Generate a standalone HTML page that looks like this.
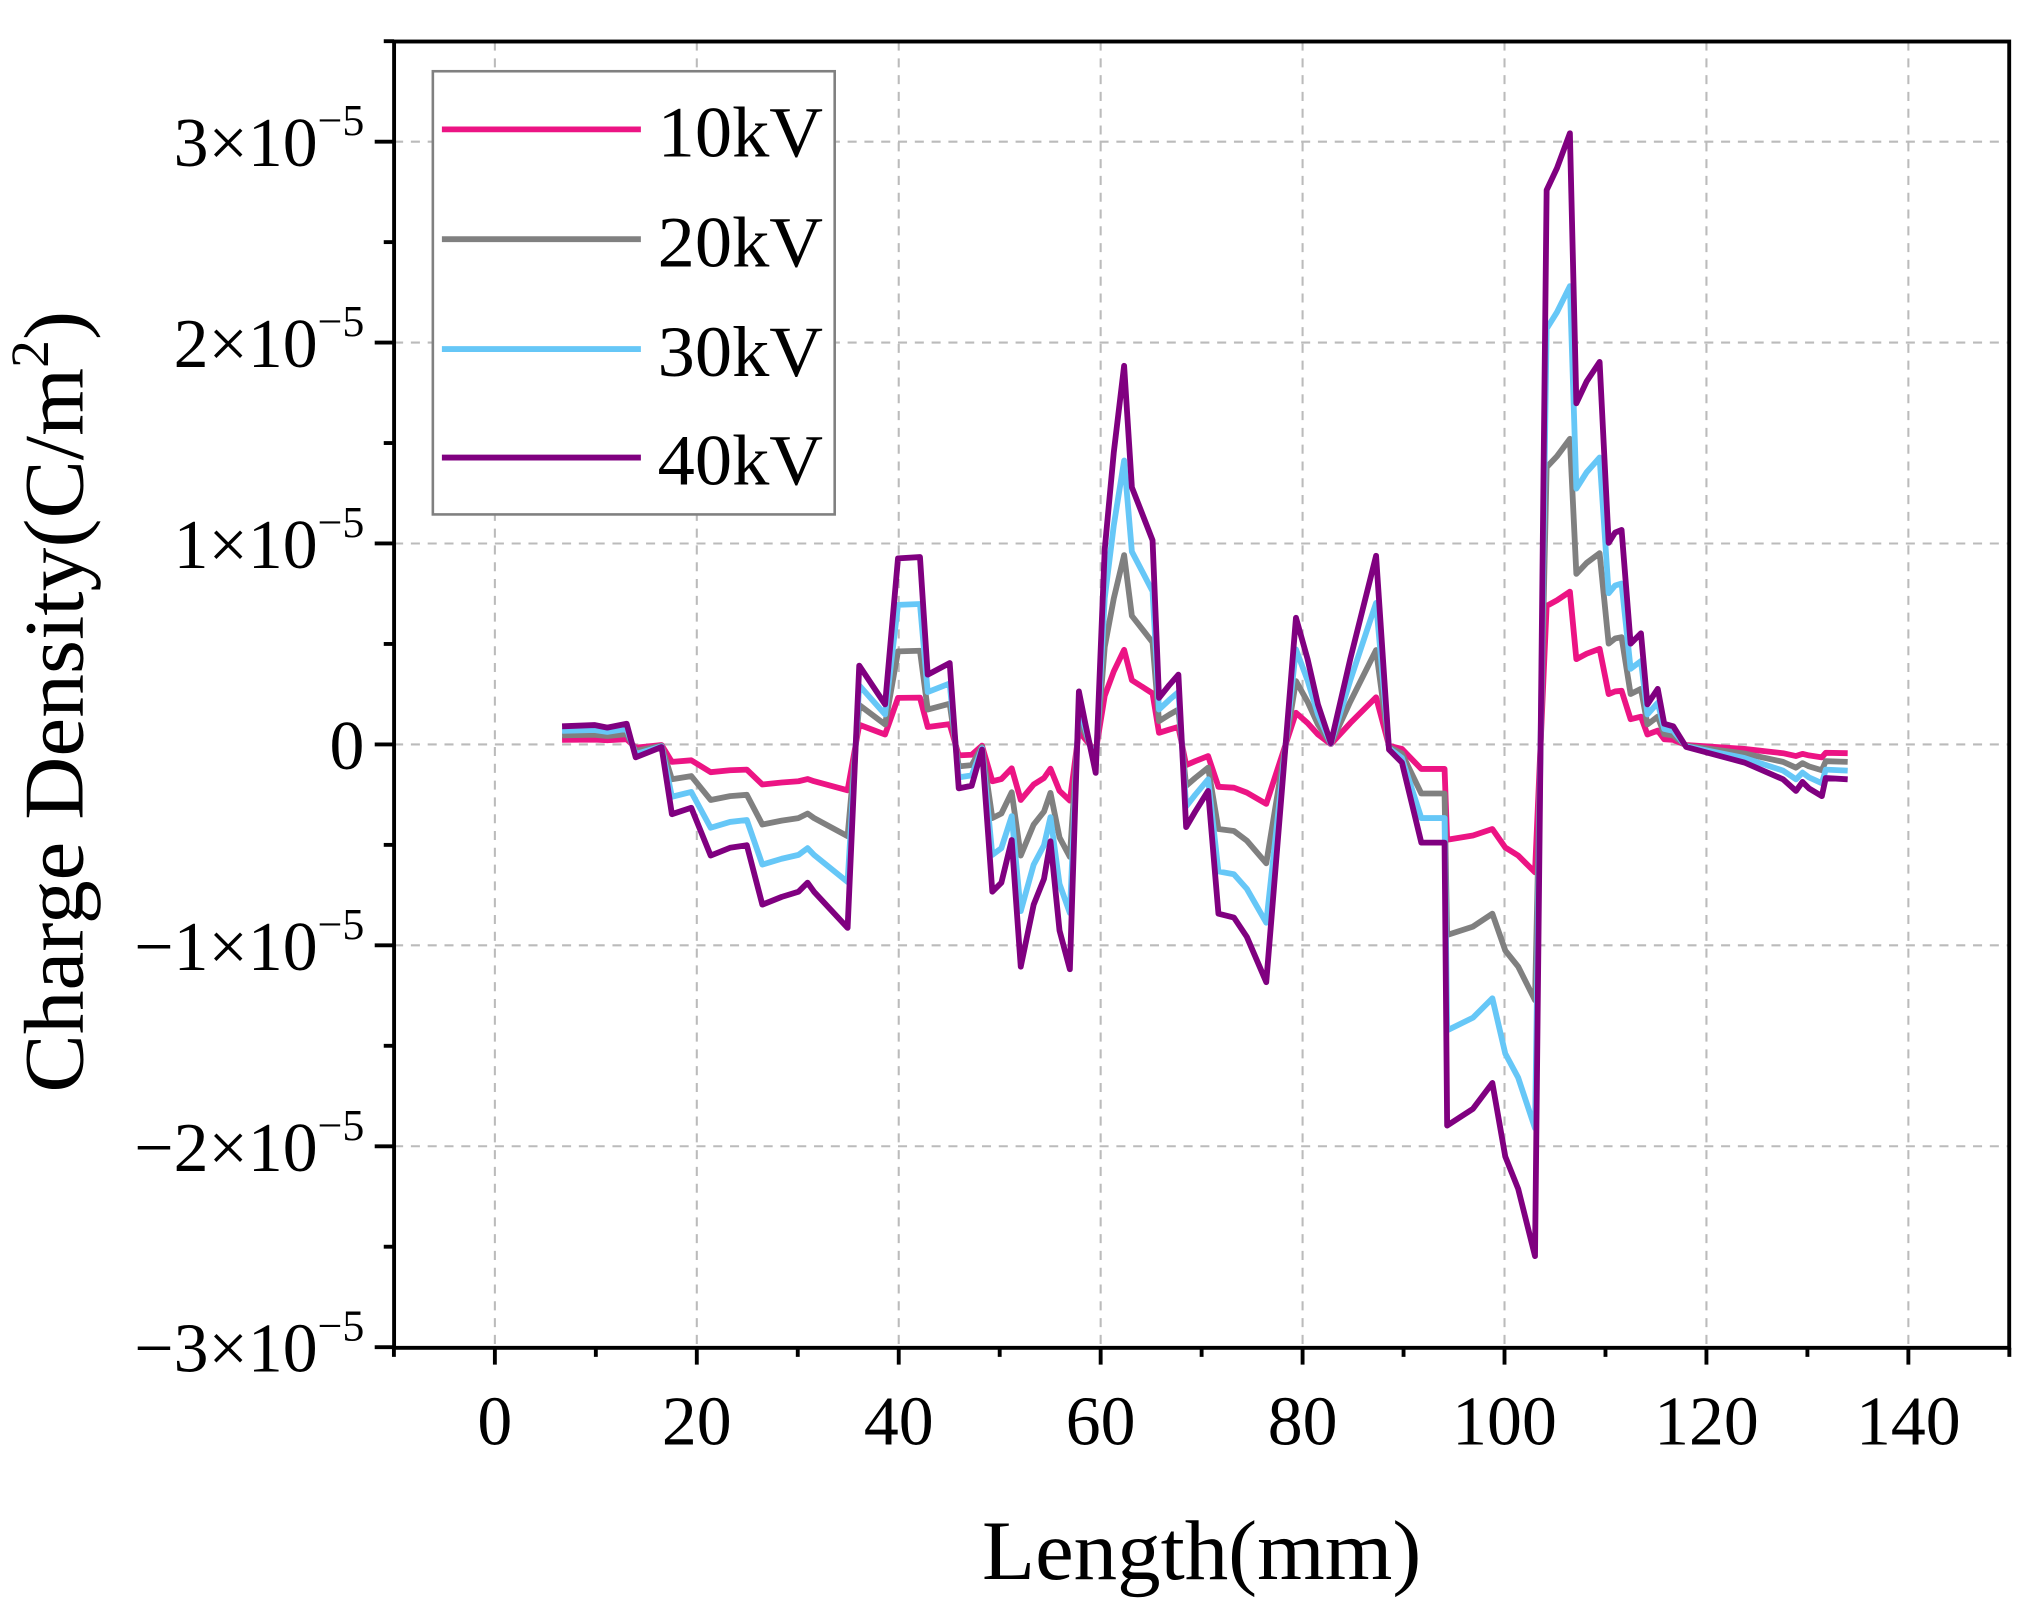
<!DOCTYPE html>
<html><head><meta charset="utf-8"><style>
html,body{margin:0;padding:0;background:#fff;}
svg{display:block;}
text{font-family:"Liberation Serif","DejaVu Serif",serif;fill:#000;}
</style></head><body>
<svg id="s" width="2026" height="1609" viewBox="0 0 1568 1245" xmlns="http://www.w3.org/2000/svg">
<rect width="1568" height="1245" fill="#fff"/>
<g id="grid" stroke="#bbb" stroke-width="1.6" stroke-dasharray="7,6" fill="none"></g>
<g id="series" fill="none" stroke-width="4.5" stroke-linejoin="round"></g>
<rect x="305" y="32" width="1250" height="1011" fill="none" stroke="#000" stroke-width="3"/>
<g id="ticks" stroke="#000" stroke-width="3"></g>
<g id="labels"></g>
<text x="930" y="1222" font-size="66" text-anchor="middle" textLength="340" lengthAdjust="spacingAndGlyphs">Length(mm)</text>
<text transform="translate(64,543) rotate(-90)" font-size="66" text-anchor="middle" textLength="605" lengthAdjust="spacingAndGlyphs">Charge Density(C/m<tspan font-size="42" dy="-27">2</tspan><tspan dy="27">)</tspan></text>
<rect x="335" y="55" width="311" height="343" fill="#fff" stroke="#808080" stroke-width="2"/>
<g stroke-width="4.5">
<line x1="342" y1="100" x2="496" y2="100" stroke="#ec1484"/>
<line x1="342" y1="185" x2="496" y2="185" stroke="#808080"/>
<line x1="342" y1="270" x2="496" y2="270" stroke="#66c7f7"/>
<line x1="342" y1="354" x2="496" y2="354" stroke="#800080"/>
</g>
<g font-size="56">
<text x="509" y="121" textLength="128" lengthAdjust="spacingAndGlyphs">10kV</text>
<text x="509" y="206" textLength="128" lengthAdjust="spacingAndGlyphs">20kV</text>
<text x="509" y="291" textLength="128" lengthAdjust="spacingAndGlyphs">30kV</text>
<text x="509" y="375" textLength="128" lengthAdjust="spacingAndGlyphs">40kV</text>
</g>
</svg>
<script>
var NS="http://www.w3.org/2000/svg";
function el(t,a,p){var e=document.createElementNS(NS,t);for(var k in a)e.setAttribute(k,a[k]);document.getElementById(p).appendChild(e);return e;}
function X(v){return 383+v*7.814;}
function Y(v){return 576-v*155.5;}
for(var v=0;v<=140;v+=20){el('line',{x1:X(v),y1:32,x2:X(v),y2:1043},'grid');}
for(var v=-2;v<=3;v++){el('line',{x1:305,y1:Y(v),x2:1555,y2:Y(v)},'grid');}
for(var v=-10;v<=150;v+=10){var maj=(v%20==0)&&v>=0&&v<=140;el('line',{x1:X(v),y1:1043,x2:X(v),y2:1043+(maj?13:7)},'ticks');}
for(var v=-3;v<=3.5;v+=0.5){var maj=Math.abs(v-Math.round(v))<0.01;el('line',{x1:305,y1:Y(v),x2:305-(maj?15:8),y2:Y(v)},'ticks');}
for(var v=0;v<=140;v+=20){var t=el('text',{x:X(v),y:1118,'font-size':54,'text-anchor':'middle'},'labels');t.textContent=v;}
for(var v=-3;v<=3;v++){
 var t=el('text',{x:282,y:Y(v)+19,'font-size':54,'text-anchor':'end'},'labels');
 if(v==0){t.textContent='0';continue;}
 var s=(v<0?'\u2212':'')+Math.abs(v)+'\u00d710';
 var a=document.createElementNS(NS,'tspan');a.textContent=s;t.appendChild(a);
 var b=document.createElementNS(NS,'tspan');b.setAttribute('font-size','34');b.setAttribute('dy','-24');b.textContent='\u22125';t.appendChild(b);
}
var P=[[435,562],[460,561],[470,563],[485,560],[492,586],[502,582],[512,578],[520,630],[535,625],[550,662],[565,656],[578,654],[590,700],[605,694],[618,690],[625,683],[630,690],[656,718],[665,515],[685,545],[695,432],[712,431],[718,522],[735,513],[742,610],[752,608],[760,580],[768,690],[775,683],[783,650],[790,748],[800,700],[808,680],[813,651],[820,720],[828,750],[835,535],[840,560],[848,598],[855,425],[862,350],[870,283],[876,377],[885,400],[892,418],[897,540],[905,530],[912,522],[918,640],[925,628],[935,612],[943,707],[955,710],[965,725],[980,760],[1003,478],[1012,510],[1020,545],[1030,575],[1045,510],[1065,430],[1075,580],[1085,590],[1100,652],[1118,652],[1120,871],[1140,858],[1155,838],[1165,895],[1175,920],[1188,972],[1197,147],[1205,130],[1215,103],[1220,312],[1228,295],[1238,280],[1245,420],[1250,412],[1255,410],[1262,498],[1270,490],[1275,545],[1283,533],[1288,560],[1295,562],[1305,578],[1350,590],[1380,603],[1390,612],[1395,605],[1400,610],[1410,616],[1413,602],[1430,603]];
var S=[[0.25,'#ec1484'],[0.5,'#808080'],[0.75,'#66c7f7'],[1,'#800080']];
S.forEach(function(s){var pts=P.map(function(p){return p[0]+','+(576-s[0]*(576-p[1])).toFixed(1);}).join(' ');el('polyline',{points:pts,stroke:s[1]},'series');});
</script>
</body></html>
